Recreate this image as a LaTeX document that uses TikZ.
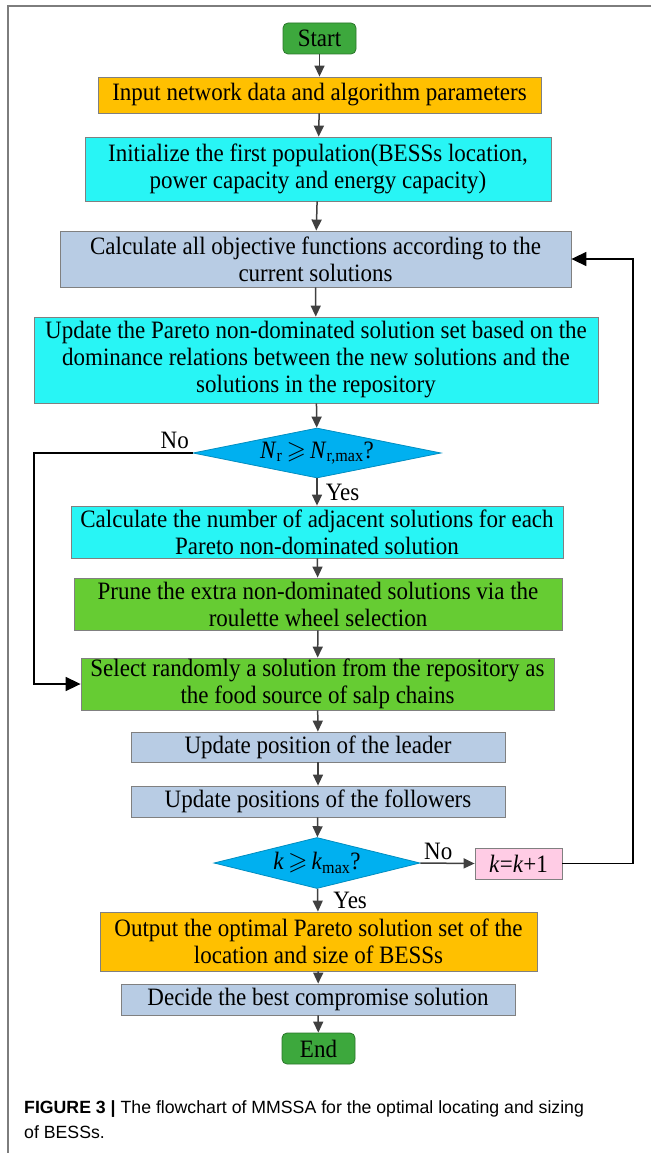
\documentclass[tikz,border=0pt]{standalone}
\usepackage{fontspec}
\usepackage{amssymb}
\setmainfont{Liberation Serif}[FakeStretch=0.92]
\newfontfamily\capfont{Liberation Sans}
\usetikzlibrary{
  arrows.meta,
  shapes.geometric,
}
\definecolor{termgreen}{RGB}{61,168,61}
\definecolor{inputorange}{RGB}{255,192,0}
\definecolor{stepcyan}{RGB}{40,245,245}
\definecolor{steplight}{RGB}{184,204,228}
\definecolor{stepgreen}{RGB}{102,204,51}
\definecolor{testblue}{RGB}{0,176,240}
\definecolor{countpink}{RGB}{255,204,229}
\definecolor{arrowgray}{RGB}{64,64,64}
\definecolor{framegray}{RGB}{125,125,125}
\tikzstyle{block} = [
  draw=gray,
  line width=0.8pt,
  align=center,
  inner sep=0pt,
  font=\fontsize{25}{27}\selectfont,
]
\tikzstyle{terminal} = [
  block,
  rounded corners=5pt,
  fill=termgreen,
  draw=termgreen!70!black,
]
\tikzstyle{decision} = [
  block,
  diamond,
  aspect=5,
  fill=testblue,
  draw=testblue!80!black,
]
\tikzstyle{arrow} = [
  -{Triangle[length=11pt,width=10pt]},
  line width=1.5pt,
  arrowgray,
]
\tikzstyle{loopback} = [
  -{Triangle[length=15pt,width=14pt]},
  line width=1.6pt,
  black,
]
\tikzstyle{answer} = [
  font=\fontsize{25}{27}\selectfont,
  text=black,
  inner sep=3pt,
]

\begin{document}
\begin{tikzpicture}[x=1pt, y=-1pt]
  \useasboundingbox (0,0) rectangle (651,1153);
  \draw [framegray, line width=1.5pt] (651,6) -- (8,6) -- (8,1153);

  \node [terminal, minimum width=73pt, minimum height=31pt] (start) at (319.5,38.5) {Start};
  \node [block, fill=inputorange, minimum width=443pt, minimum height=36pt] (input) at (319.5,95) {Input network data and algorithm parameters};
  \node [block, fill=stepcyan, minimum width=466pt, minimum height=64pt] (init) at (318,169) {Initialize the first population(BESSs location,\\power capacity and energy capacity)};
  \node [block, fill=steplight, minimum width=511pt, minimum height=56pt] (calc) at (315.5,259) {Calculate all objective functions according to the\\current solutions};
  \node [block, fill=stepcyan, minimum width=564pt, minimum height=86pt] (update) at (316,360) {Update the Pareto non-dominated solution set based on the\\dominance relations between the new solutions and the\\solutions in the repository};
  \node [decision, minimum width=248pt, minimum height=50pt] (size) at (317,453) {\textit{N}\textsubscript{r}\,$\geqslant$\,\textit{N}\textsubscript{r,max}?};
  \node [block, fill=stepcyan, minimum width=492pt, minimum height=52pt] (count) at (317,532) {Calculate the number of adjacent solutions for each\\Pareto non-dominated solution};
  \node [block, fill=stepgreen, minimum width=488pt, minimum height=52pt] (prune) at (318,604) {Prune the extra non-dominated solutions via the\\roulette wheel selection};
  \node [block, fill=stepgreen, minimum width=473pt, minimum height=52pt] (select) at (317.5,684) {Select randomly a solution from the repository as\\the food source of salp chains};
  \node [block, fill=steplight, minimum width=374pt, minimum height=30pt] (leader) at (318,747) {Update position of the leader};
  \node [block, fill=steplight, minimum width=374pt, minimum height=31pt] (follow) at (318,801.5) {Update positions of the followers};
  \node [decision, aspect=4, minimum width=206pt, minimum height=51pt] (iter) at (317,863) {\textit{k}\,$\geqslant$\,\textit{k}\textsubscript{max}?};
  \node [block, fill=countpink, minimum width=87pt, minimum height=31pt] (next) at (518.5,863.5) {\textit{k}=\textit{k}+1};
  \node [block, fill=inputorange, minimum width=437pt, minimum height=59pt] (output) at (318.5,941.5) {Output the optimal Pareto solution set of the\\location and size of BESSs};
  \node [block, fill=steplight, minimum width=394pt, minimum height=31pt] (decide) at (318,999.5) {Decide the best compromise solution};
  \node [terminal, minimum width=73pt, minimum height=31pt] (end) at (318.5,1048.5) {End};

  \draw [arrow] (start) -- (input);
  \draw [arrow] (input) -- (init);
  \draw [arrow] (init) -- (calc);
  \draw [arrow] (calc) -- (update);
  \draw [arrow] (update) -- (size);
  \draw [arrow] (size) -- node [answer, right=5pt] (sizeyes) {Yes} (count);
  \draw [arrow] (count) -- (prune);
  \draw [arrow] (prune) -- (select);
  \draw [arrow] (select) -- (leader);
  \draw [arrow] (leader) -- (follow);
  \draw [arrow] (follow) -- (iter);
  \draw [arrow] (iter) -- node [answer, right=12pt] (iteryes) {Yes} (output);
  \draw [arrow] (output) -- (decide);
  \draw [arrow] (decide) -- (end);

  % the two "No" branches
  \draw [loopback] (size.west) -- node [answer, pos=0, above left] (sizeno) {No} (34,453) |- (select.west);
  \draw [arrow] (iter.east) -- node [answer, pos=0, above right] (iterno) {No} (next.west);
  \draw [loopback] (next.east) -- (633,863.5) |- (calc.east);

  \node [anchor=north west, align=left, inner sep=0pt, font=\capfont\fontsize{17.7}{25}\selectfont] (caption) at (24,1100) {\textbf{FIGURE 3 |} The flowchart of MMSSA for the optimal locating and sizing\\of BESSs.};
\end{tikzpicture}
\end{document}
